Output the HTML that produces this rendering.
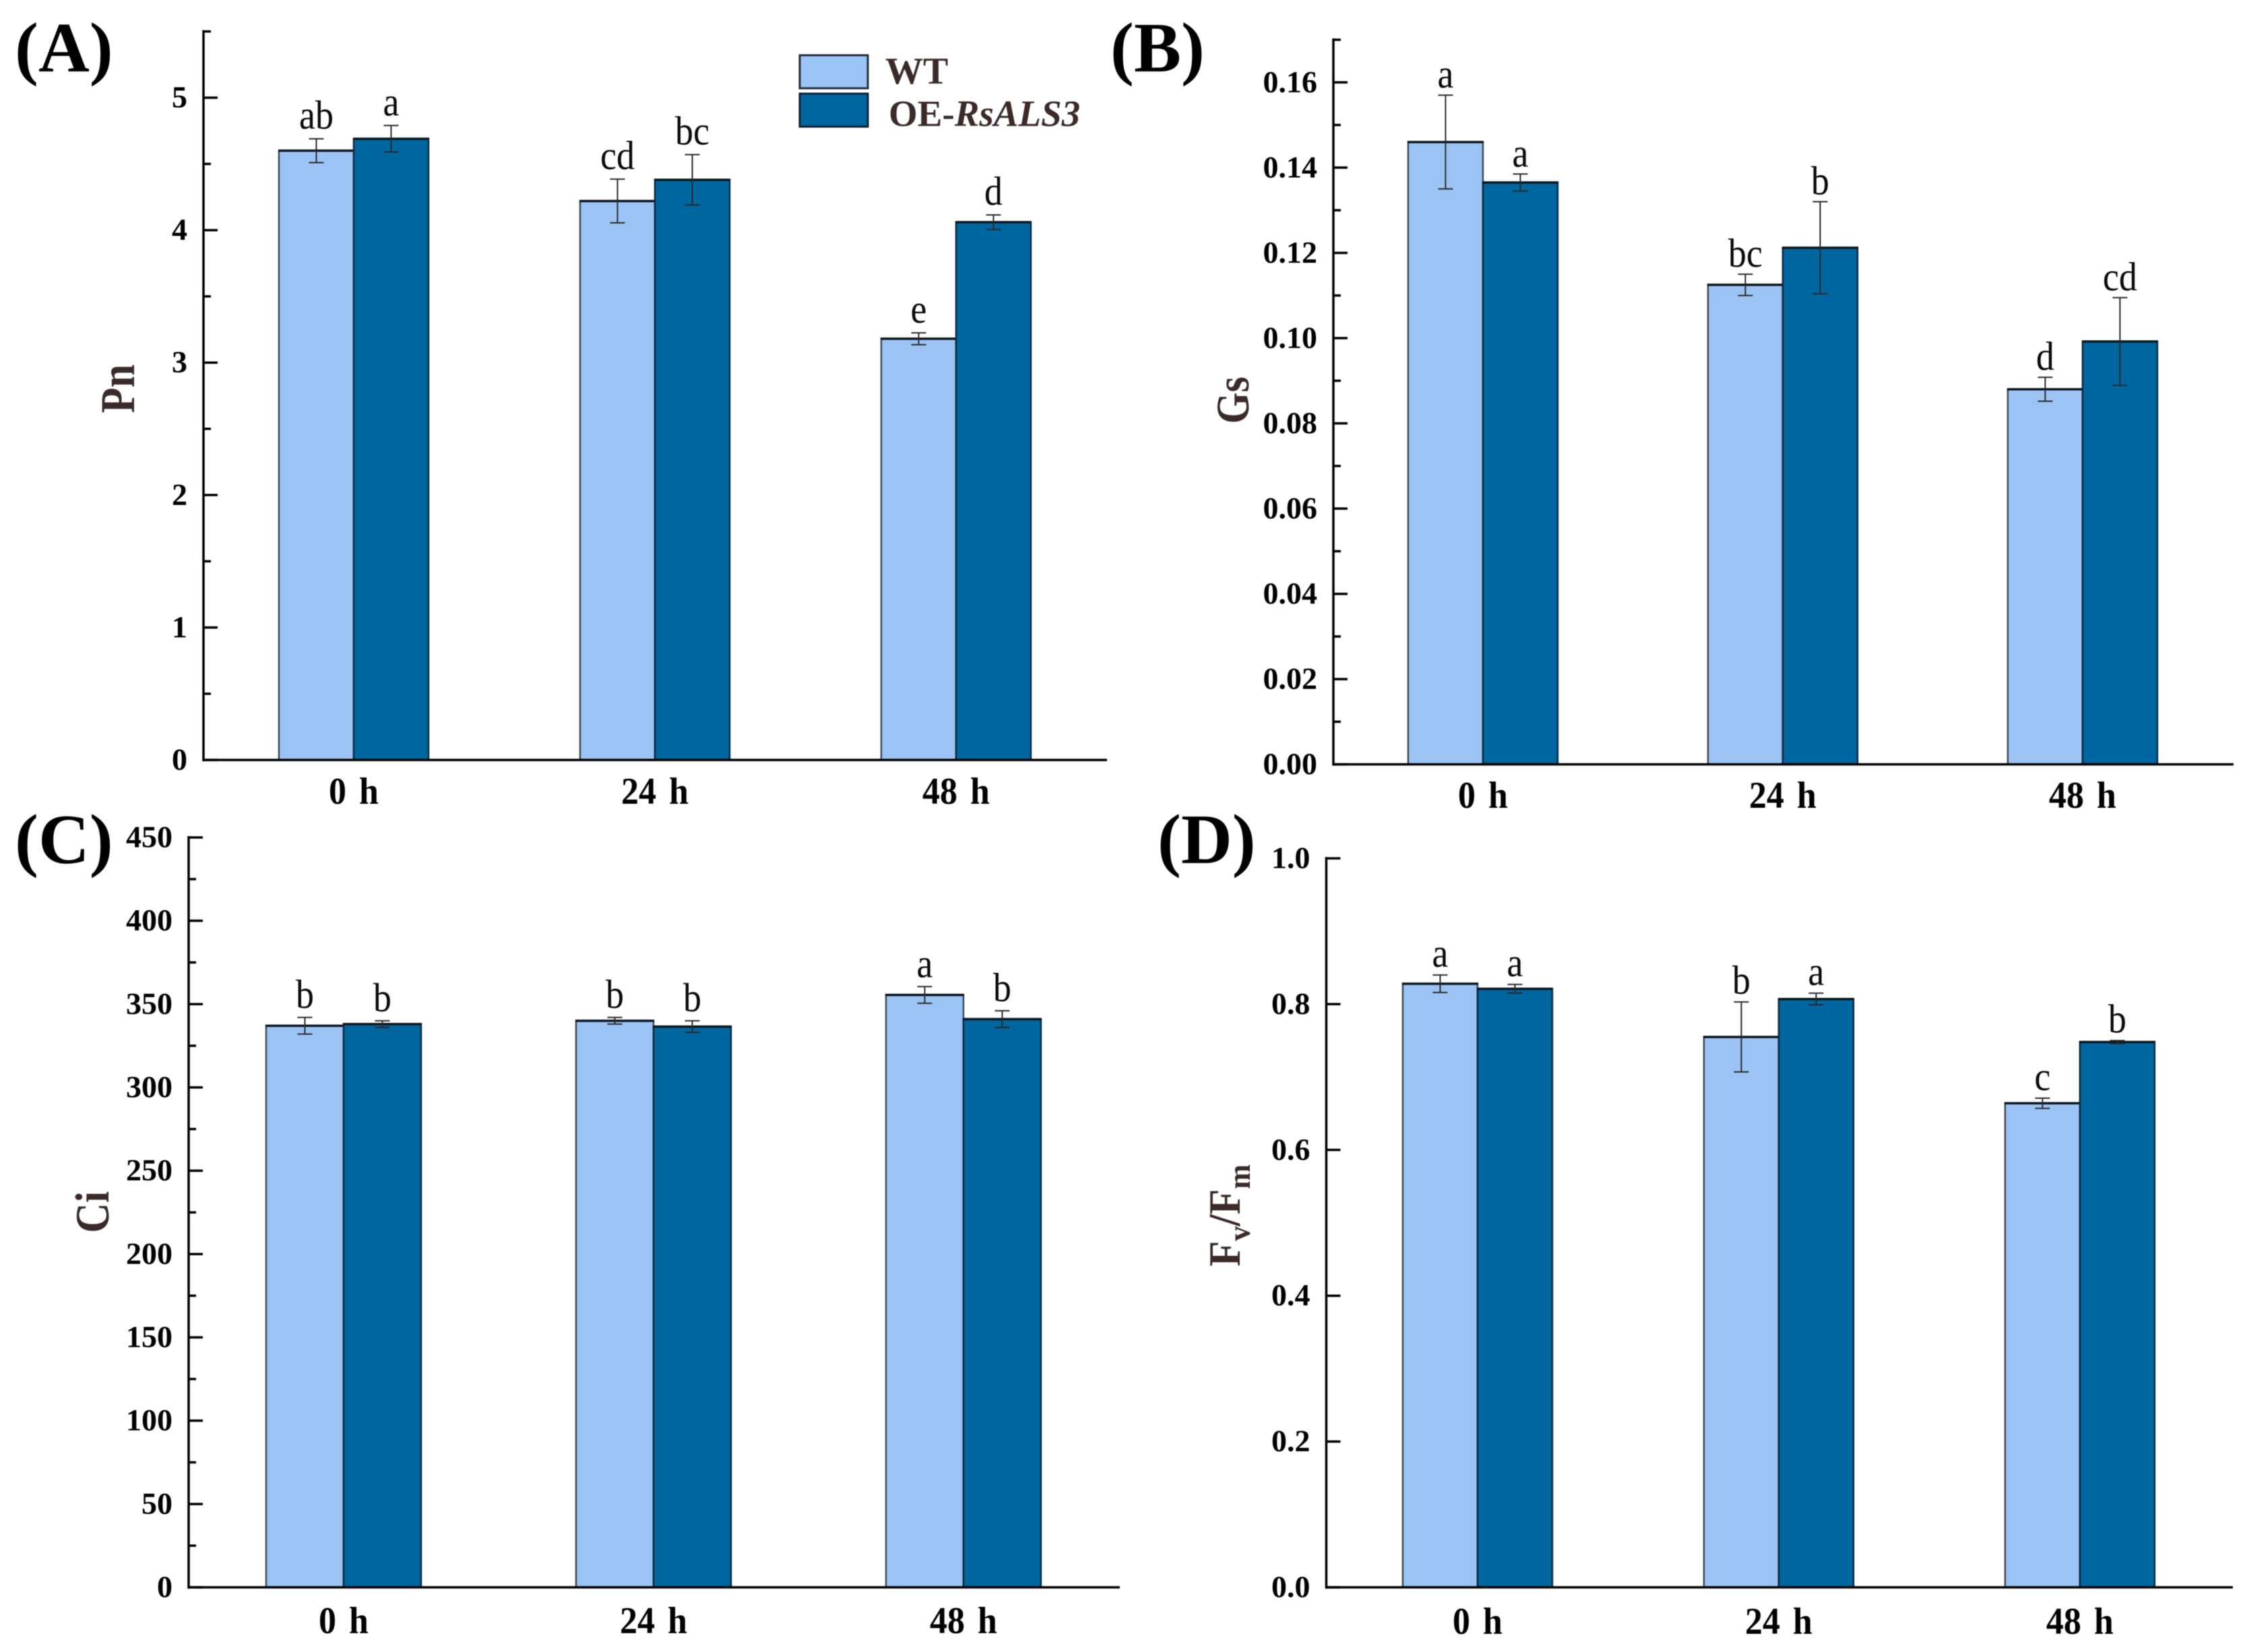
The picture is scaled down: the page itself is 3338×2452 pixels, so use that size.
<!DOCTYPE html>
<html lang="en">
<head>
<meta charset="utf-8">
<title>Photosynthetic parameters of WT and OE-RsALS3</title>
<style>
html,body{margin:0;padding:0;background:#fff;width:3338px;height:2452px;overflow:hidden}
svg{display:block;font-family:"Liberation Serif",serif;filter:blur(0.6px)}
</style>
</head>
<body>
<svg id="figure" xmlns="http://www.w3.org/2000/svg" width="3338" height="2452" viewBox="0 0 3338 2452">
  <rect width="3338" height="2452" fill="#fff"/>
  <g id="panel-a"></g>
  <g id="panel-b"></g>
  <g id="panel-c"></g>
  <g id="panel-d"></g>

  <text x="22" y="106" font-size="105" font-weight="bold">(A)</text>
  <text x="1648" y="106" font-size="105" font-weight="bold">(B)</text>
  <text x="22" y="1281" font-size="105" font-weight="bold">(C)</text>
  <text x="1718" y="1281" font-size="105" font-weight="bold">(D)</text>

  <text transform="translate(199,577) rotate(-90) scale(1,1.17)" text-anchor="middle" font-size="62" font-weight="bold" fill="#3a2a2a">Pn</text>
  <text transform="translate(1853,594) rotate(-90) scale(1,1.15)" text-anchor="middle" font-size="60" font-weight="bold" fill="#3a2a2a">Gs</text>
  <text transform="translate(161,1799) rotate(-90) scale(1,1.15)" text-anchor="middle" font-size="62" font-weight="bold" fill="#3a2a2a">Ci</text>
  <text transform="translate(1840,1804) rotate(-90) scale(1,1.07)" text-anchor="middle" font-size="62" font-weight="bold" fill="#3a2a2a">F<tspan font-size="44" dy="14">v</tspan><tspan dy="-14">/F</tspan><tspan font-size="44" dy="14">m</tspan></text>

  <g>
    <rect x="1187" y="82" width="101" height="49" fill="#9bc4f5" stroke="#22303c" stroke-width="3"/>
    <rect x="1187" y="139" width="101" height="49" fill="#00669f" stroke="#0c2233" stroke-width="3"/>
    <text x="1314" y="124" font-size="56" font-weight="bold" fill="#3a2a2a">WT</text>
    <text x="1319" y="187" font-size="55" font-weight="bold" fill="#3a2a2a">OE-<tspan font-style="italic">RsALS3</tspan></text>
  </g>
</svg>

<script>
const categories = ['0 h', '24 h', '48 h'];

const ticksA = [0, 1, 2, 3, 4, 5];
const tickLabelsA = ['0', '1', '2', '3', '4', '5'];
const wtA = [4.6, 4.22, 3.18];
const oeA = [4.69, 4.38, 4.06];
const wtErrA = [0.09, 0.165, 0.045];
const oeErrA = [0.1, 0.19, 0.055];
const wtLettersA = ['ab', 'cd', 'e'];
const oeLettersA = ['a', 'bc', 'd'];

const ticksB = [0, 0.02, 0.04, 0.06, 0.08, 0.1, 0.12, 0.14, 0.16];
const tickLabelsB = ['0.00', '0.02', '0.04', '0.06', '0.08', '0.10', '0.12', '0.14', '0.16'];
const wtB = [0.146, 0.1125, 0.088];
const oeB = [0.1365, 0.1212, 0.0992];
const wtErrB = [0.011, 0.0025, 0.0028];
const oeErrB = [0.002, 0.0108, 0.0103];
const wtLettersB = ['a', 'bc', 'd'];
const oeLettersB = ['a', 'b', 'cd'];

const ticksC = [0, 50, 100, 150, 200, 250, 300, 350, 400, 450];
const tickLabelsC = ['0', '50', '100', '150', '200', '250', '300', '350', '400', '450'];
const wtC = [337, 340, 355.5];
const oeC = [338, 336.5, 341];
const wtErrC = [5, 2, 5];
const oeErrC = [2, 3.5, 5];
const wtLettersC = ['b', 'b', 'a'];
const oeLettersC = ['b', 'b', 'b'];

const ticksD = [0, 0.2, 0.4, 0.6, 0.8, 1];
const tickLabelsD = ['0.0', '0.2', '0.4', '0.6', '0.8', '1.0'];
const wtD = [0.828, 0.755, 0.664];
const oeD = [0.821, 0.807, 0.748];
const wtErrD = [0.012, 0.048, 0.007];
const oeErrD = [0.006, 0.008, 0.002];
const wtLettersD = ['a', 'b', 'c'];
const oeLettersD = ['a', 'a', 'b'];

const SVGNS = 'http://www.w3.org/2000/svg';

function make(tag, parent, attrs) {
  const node = document.createElementNS(SVGNS, tag);
  for (const k in attrs) node.setAttribute(k, attrs[k]);
  parent.appendChild(node);
  return node;
}

function drawPanel(id, geom, domainMax, ticks, tickLabels, wt, oe, wtErr, oeErr, wtLetters, oeLetters, hasMinor) {
  const g = document.getElementById(id);
  const yScale = function (v) { return geom.y0 - (v / domainMax) * (geom.y0 - geom.yTop); };
  const xScale = function (i) { return geom.cx0 + i * geom.step; };
  let el;

  categories.forEach(function (cat, i) {
    const cx = xScale(i);
    const series = [
      { vals: wt, errs: wtErr, lets: wtLetters, fill: '#9bc4f5', edge: '#3c4a57', x: cx - geom.bw },
      { vals: oe, errs: oeErr, lets: oeLetters, fill: '#00669f', edge: '#0c2a40', x: cx }
    ];
    series.forEach(function (s, si) {
      const top = yScale(s.vals[i]);
      el = make('rect', g, { x: s.x, y: top, width: geom.bw, height: geom.y0 - top, fill: s.fill, stroke: s.edge, 'stroke-width': 2.5 });
      if (si === 0) {
        
      } else {
        
      }
      

      el = make('line', g, { x1: s.x - 1, x2: s.x + geom.bw + 1, y1: top, y2: top, stroke: '#0b1620', 'stroke-width': 3.5 });
      
      
    });
    series.forEach(function (s) {
      const mx = s.x + geom.bw / 2;
      const hi = yScale(s.vals[i] + s.errs[i]);
      const lo = yScale(s.vals[i] - s.errs[i]);
      const d = 'M' + mx + ' ' + hi + 'V' + lo +
        'M' + (mx - 11) + ' ' + hi + 'H' + (mx + 11) +
        'M' + (mx - 11) + ' ' + lo + 'H' + (mx + 11);
      el = make('path', g, { d: d, fill: 'none', stroke: '#2a2a2a', 'stroke-width': 2 });
      
      

      el = make('text', g, { transform: 'translate(' + mx + ',' + (hi - geom.letterGap) + ') scale(1,1.12)', 'text-anchor': 'middle', 'font-size': 54, fill: '#0a0a0a' });
      el.textContent = s.lets[i];
      
      
    });

    el = make('text', g, { transform: 'translate(' + cx + ',' + geom.xLabelY + ') scale(1,1.08)', 'text-anchor': 'middle', 'font-size': 52, 'font-weight': 'bold', 'word-spacing': 6 });
    el.textContent = cat;
    
    
  });

  const stepT = ticks[1] - ticks[0];
  ticks.forEach(function (t, i) {
    const y = yScale(t);
    el = make('line', g, { x1: geom.ax, x2: geom.ax + 21, y1: y, y2: y, stroke: '#000', 'stroke-width': 3.5 });
    
    

    el = make('text', g, { x: geom.ax - 24, y: y + 14.5, 'text-anchor': 'end', 'font-size': 46, 'font-weight': 'bold' });
    el.textContent = tickLabels[i];
    
    

    const minorV = t + stepT / 2;
    if (hasMinor && minorV <= domainMax + 1e-9) {
      const my = yScale(minorV);
      el = make('line', g, { x1: geom.ax, x2: geom.ax + 11, y1: my, y2: my, stroke: '#000', 'stroke-width': 3.5 });
      
      
    }
  });

  el = make('line', g, { x1: geom.ax, x2: geom.ax, y1: geom.yTop - 2, y2: geom.y0 + 2, stroke: '#000', 'stroke-width': 3.5 });
  
  

  el = make('line', g, { x1: geom.ax - 1, x2: geom.xEnd, y1: geom.y0, y2: geom.y0, stroke: '#000', 'stroke-width': 3.5 });
  
  
}

drawPanel('panel-a', { ax: 302, xEnd: 1643, y0: 1128, yTop: 46.7, cx0: 525, step: 447, bw: 111, xLabelY: 1193, letterGap: 15 }, 5.5, ticksA, tickLabelsA, wtA, oeA, wtErrA, oeErrA, wtLettersA, oeLettersA, true);
drawPanel('panel-b', { ax: 1979, xEnd: 3315, y0: 1134.5, yTop: 59, cx0: 2201, step: 445, bw: 111, xLabelY: 1199, letterGap: 11 }, 0.17, ticksB, tickLabelsB, wtB, oeB, wtErrB, oeErrB, wtLettersB, oeLettersB, true);
drawPanel('panel-c', { ax: 280, xEnd: 1662, y0: 2356, yTop: 1243, cx0: 510, step: 460, bw: 115, xLabelY: 2424, letterGap: 14 }, 450, ticksC, tickLabelsC, wtC, oeC, wtErrC, oeErrC, wtLettersC, oeLettersC, true);
drawPanel('panel-d', { ax: 1968.5, xEnd: 3314, y0: 2356, yTop: 1274, cx0: 2193, step: 447, bw: 111, xLabelY: 2425, letterGap: 12 }, 1, ticksD, tickLabelsD, wtD, oeD, wtErrD, oeErrD, wtLettersD, oeLettersD, false);
</script>
</body>
</html>
